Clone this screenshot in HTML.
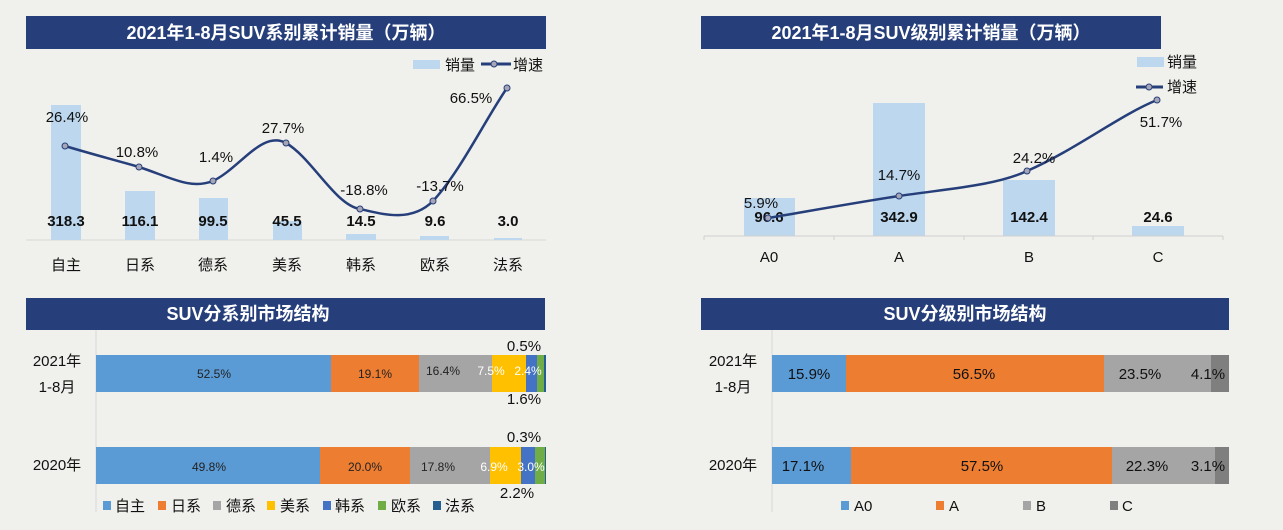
<!DOCTYPE html>
<html><head><meta charset="utf-8"><style>
html,body{margin:0;padding:0;background:#f0f1ed;width:1283px;height:530px;overflow:hidden;}
svg{display:block;overflow:hidden;font-family:"Liberation Sans","Noto Sans CJK SC",sans-serif;}
.t{fill:#fff;font-weight:bold;font-size:18px;text-anchor:middle;}
.v{font-size:15px;font-weight:bold;fill:#111;text-anchor:middle;}
.s{font-size:12px;fill:#222;text-anchor:middle;}
.w{font-size:12px;fill:#fff;text-anchor:middle;}
.m{font-size:15px;fill:#111;text-anchor:middle;}
</style></head><body>
<svg width="1283" height="530" viewBox="0 0 1283 530">
<rect width="1283" height="530" fill="#f0f1ed"/>

<!-- TL -->
<rect x="26" y="16" width="520" height="33" fill="#263f7a"/>
<text class="t" x="286" y="39">2021年1-8月SUV系别累计销量（万辆）</text>
<rect x="413" y="60" width="27" height="9" fill="#bdd7ee"/>
<text x="445" y="70" font-size="15" fill="#111">销量</text>
<line x1="481" y1="64" x2="511" y2="64" stroke="#263f7a" stroke-width="3"/>
<circle cx="494" cy="64" r="3" fill="#a5a5b5" stroke="#263f7a"/>
<text x="513" y="70" font-size="15" fill="#111">增速</text>
<line x1="26" y1="240" x2="546" y2="240" stroke="#d9d9d9"/>
<g fill="#bdd7ee">
<rect x="51" y="105" width="30" height="135"/>
<rect x="125" y="191" width="30" height="49"/>
<rect x="199" y="198" width="29" height="42"/>
<rect x="273" y="221" width="29" height="19"/>
<rect x="346" y="234" width="30" height="6"/>
<rect x="420" y="236" width="29" height="4"/>
<rect x="494" y="238" width="28" height="2"/>
</g>
<g class="v">
<text x="66" y="226">318.3</text><text x="140" y="226">116.1</text><text x="213" y="226">99.5</text>
<text x="287" y="226">45.5</text><text x="361" y="226">14.5</text><text x="435" y="226">9.6</text><text x="508" y="226">3.0</text>
</g>
<path d="M65,146 C95,155 115,160 139,167 C170,177 190,190 213,181 C240,168 262,130 286,143 C312,158 335,205 360,209 C385,215 412,222 433,201 C460,172 485,120 507,88" fill="none" stroke="#263f7a" stroke-width="2.5"/>
<g fill="#a5a5b5" stroke="#263f7a">
<circle cx="65" cy="146" r="3"/><circle cx="139" cy="167" r="3"/><circle cx="213" cy="181" r="3"/><circle cx="286" cy="143" r="3"/><circle cx="360" cy="209" r="3"/><circle cx="433" cy="201" r="3"/><circle cx="507" cy="88" r="3"/>
</g>
<g class="m">
<text x="67" y="122">26.4%</text><text x="137" y="157">10.8%</text><text x="216" y="162">1.4%</text>
<text x="283" y="133">27.7%</text><text x="364" y="195">-18.8%</text><text x="440" y="191">-13.7%</text><text x="471" y="103">66.5%</text>
<text x="66" y="270">自主</text><text x="140" y="270">日系</text><text x="213" y="270">德系</text><text x="287" y="270">美系</text><text x="361" y="270">韩系</text><text x="435" y="270">欧系</text><text x="508" y="270">法系</text>
</g>

<!-- TR -->
<rect x="701" y="16" width="460" height="33" fill="#263f7a"/>
<text class="t" x="931" y="39">2021年1-8月SUV级别累计销量（万辆）</text>
<rect x="1137" y="57" width="27" height="10" fill="#bdd7ee"/>
<text x="1167" y="67" font-size="15" fill="#111">销量</text>
<line x1="1136" y1="87" x2="1163" y2="87" stroke="#263f7a" stroke-width="3"/>
<circle cx="1149" cy="87" r="3" fill="#a5a5b5" stroke="#263f7a"/>
<text x="1167" y="92" font-size="15" fill="#111">增速</text>
<g fill="#bdd7ee">
<rect x="744" y="198" width="51" height="38"/>
<rect x="873" y="103" width="52" height="133"/>
<rect x="1003" y="180" width="52" height="56"/>
<rect x="1132" y="226" width="52" height="10"/>
</g>
<line x1="704" y1="236" x2="1223" y2="236" stroke="#d0d0d0"/>
<g stroke="#d0d0d0"><line x1="704" y1="236" x2="704" y2="240"/><line x1="834" y1="236" x2="834" y2="240"/><line x1="964" y1="236" x2="964" y2="240"/><line x1="1093" y1="236" x2="1093" y2="240"/><line x1="1223" y1="236" x2="1223" y2="240"/></g>
<g class="v">
<text x="769" y="222">96.6</text><text x="899" y="222">342.9</text><text x="1029" y="222">142.4</text><text x="1158" y="222">24.6</text>
</g>
<path d="M768,218 C815,210 860,202 899,196 C945,189 995,186 1027,171 C1075,150 1120,115 1157,100" fill="none" stroke="#263f7a" stroke-width="2.5"/>
<g fill="#a5a5b5" stroke="#263f7a"><circle cx="768" cy="218" r="3"/><circle cx="899" cy="196" r="3"/><circle cx="1027" cy="171" r="3"/><circle cx="1157" cy="100" r="3"/></g>
<g class="m">
<text x="761" y="208">5.9%</text><text x="899" y="180">14.7%</text><text x="1034" y="163">24.2%</text><text x="1161" y="127">51.7%</text>
<text x="769" y="262">A0</text><text x="899" y="262">A</text><text x="1029" y="262">B</text><text x="1158" y="262">C</text>
</g>

<!-- BL -->
<rect x="26" y="298" width="519" height="32" fill="#263f7a"/>
<text class="t" x="248" y="320">SUV分系别市场结构</text>
<line x1="96" y1="330" x2="96" y2="512" stroke="#d9d9d9"/>
<rect x="96" y="355" width="235" height="37" fill="#5b9bd5"/>
<rect x="331" y="355" width="88" height="37" fill="#ed7d31"/>
<rect x="419" y="355" width="73" height="37" fill="#a5a5a5"/>
<rect x="492" y="355" width="34" height="37" fill="#ffc000"/>
<rect x="526" y="355" width="11" height="37" fill="#4472c4"/>
<rect x="537" y="355" width="7" height="37" fill="#70ad47"/>
<rect x="544" y="355" width="2" height="37" fill="#255e91"/>
<rect x="96" y="447" width="224" height="37" fill="#5b9bd5"/>
<rect x="320" y="447" width="90" height="37" fill="#ed7d31"/>
<rect x="410" y="447" width="80" height="37" fill="#a5a5a5"/>
<rect x="490" y="447" width="31" height="37" fill="#ffc000"/>
<rect x="521" y="447" width="14" height="37" fill="#4472c4"/>
<rect x="535" y="447" width="10" height="37" fill="#70ad47"/>
<rect x="545" y="447" width="1" height="37" fill="#255e91"/>
<g class="s"><text x="214" y="378">52.5%</text><text x="375" y="378">19.1%</text><text x="443" y="375">16.4%</text>
<text x="209" y="471">49.8%</text><text x="365" y="471">20.0%</text><text x="438" y="471">17.8%</text></g>
<g class="w"><text x="491" y="375">7.5%</text><text x="528" y="375">2.4%</text><text x="494" y="471">6.9%</text><text x="531" y="471">3.0%</text></g>
<g class="m">
<text x="524" y="351">0.5%</text><text x="524" y="404">1.6%</text><text x="524" y="442">0.3%</text><text x="517" y="498">2.2%</text>
<text x="57" y="366">2021年</text><text x="57" y="392">1-8月</text><text x="57" y="470">2020年</text>
</g>
<g font-size="15" fill="#111">
<rect x="103" y="501" width="8" height="9" fill="#5b9bd5"/><text x="115" y="511">自主</text>
<rect x="158" y="501" width="8" height="9" fill="#ed7d31"/><text x="171" y="511">日系</text>
<rect x="213" y="501" width="8" height="9" fill="#a5a5a5"/><text x="226" y="511">德系</text>
<rect x="267" y="501" width="8" height="9" fill="#ffc000"/><text x="280" y="511">美系</text>
<rect x="323" y="501" width="8" height="9" fill="#4472c4"/><text x="335" y="511">韩系</text>
<rect x="378" y="501" width="8" height="9" fill="#70ad47"/><text x="391" y="511">欧系</text>
<rect x="433" y="501" width="8" height="9" fill="#255e91"/><text x="445" y="511">法系</text>
</g>

<!-- BR -->
<rect x="701" y="298" width="528" height="32" fill="#263f7a"/>
<text class="t" x="965" y="320">SUV分级别市场结构</text>
<line x1="772" y1="330" x2="772" y2="512" stroke="#d9d9d9"/>
<rect x="772" y="355" width="74" height="37" fill="#5b9bd5"/>
<rect x="846" y="355" width="258" height="37" fill="#ed7d31"/>
<rect x="1104" y="355" width="107" height="37" fill="#a5a5a5"/>
<rect x="1211" y="355" width="18" height="37" fill="#7f7f7f"/>
<rect x="772" y="447" width="79" height="37" fill="#5b9bd5"/>
<rect x="851" y="447" width="261" height="37" fill="#ed7d31"/>
<rect x="1112" y="447" width="103" height="37" fill="#a5a5a5"/>
<rect x="1215" y="447" width="14" height="37" fill="#7f7f7f"/>
<g class="m">
<text x="809" y="379">15.9%</text><text x="974" y="379">56.5%</text><text x="1140" y="379">23.5%</text><text x="1208" y="379">4.1%</text>
<text x="803" y="471">17.1%</text><text x="982" y="471">57.5%</text><text x="1147" y="471">22.3%</text><text x="1208" y="471">3.1%</text>
<text x="733" y="366">2021年</text><text x="733" y="392">1-8月</text><text x="733" y="470">2020年</text>
</g>
<g font-size="15" fill="#111">
<rect x="841" y="501" width="8" height="9" fill="#5b9bd5"/><text x="854" y="511">A0</text>
<rect x="936" y="501" width="8" height="9" fill="#ed7d31"/><text x="949" y="511">A</text>
<rect x="1023" y="501" width="8" height="9" fill="#a5a5a5"/><text x="1036" y="511">B</text>
<rect x="1110" y="501" width="8" height="9" fill="#7f7f7f"/><text x="1122" y="511">C</text>
</g>
</svg>
</body></html>
